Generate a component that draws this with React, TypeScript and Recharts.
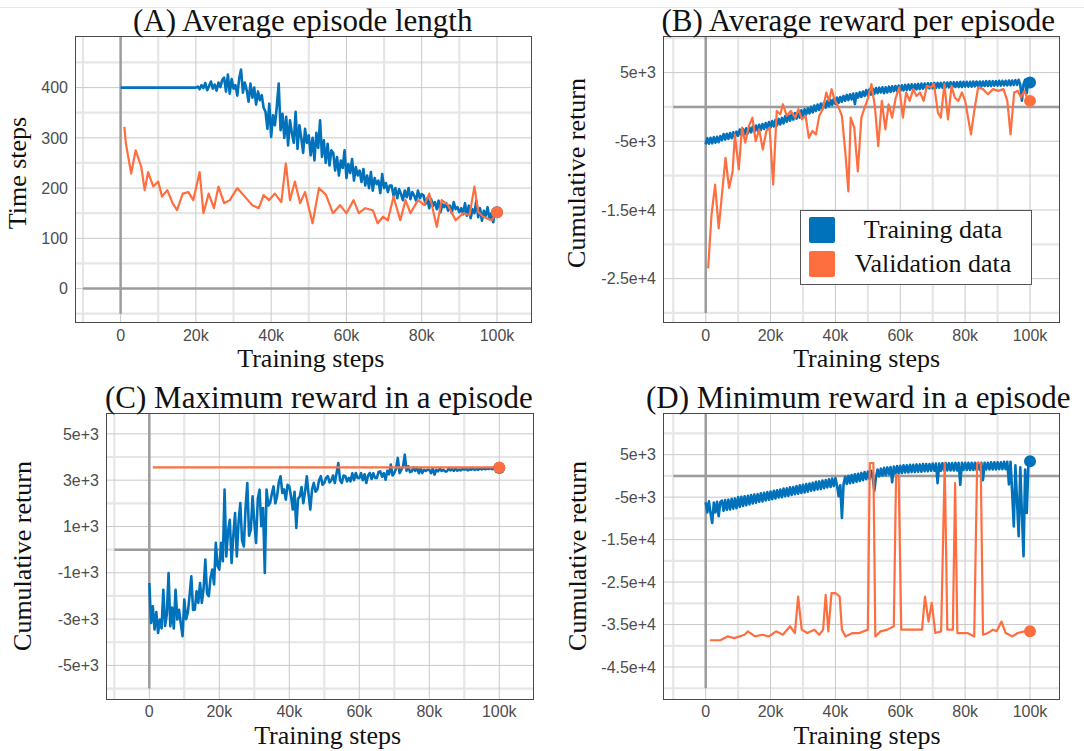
import React from "react";
import { LineChart, Line, XAxis, YAxis, CartesianGrid, ReferenceLine } from "recharts";

// training curves are logged every 500 steps, x is in thousands of steps
const TRAIN_STEP_K = 0.5;

const X_TICKS = [0, 20, 40, 60, 80, 100];
const X_MINOR = [-10, 10, 30, 50, 70, 90];

const BLUE = "#0071bb";
const ORANGE = "#ff6e3f";

// (A) average episode length
const TRAIN_A = [
  400, 400, 400, 400, 400, 400, 400, 400, 400, 400, 400, 400, 400, 400, 400, 400, 400, 400, 400, 400,
  400, 400, 400, 400, 400, 400, 400, 400, 400, 400, 400, 400, 400, 400, 400, 400, 400, 400, 400, 400, 400,
  402, 397, 405, 399, 409, 395, 403, 412, 398, 406, 394, 410, 401, 415,
  420, 392, 426, 388, 417, 398,
  405, 384, 418, 436, 390, 410,
  395, 372, 408, 380, 400, 366, 392, 375, 385, 360,
  352, 318, 368, 302, 345, 325, 362, 408, 315, 348,
  300, 342, 285, 335, 310, 290, 352, 278, 325, 300, 270, 318, 290, 305,
  265, 300, 255, 310, 280, 335, 262, 295, 250, 288, 245, 275,
  270, 235, 262, 225, 255, 240, 275, 220, 248, 230, 258, 215, 242, 225, 235, 212,
  238, 205, 225, 200, 232, 195, 220, 208, 215, 190, 228, 200, 210, 192, 205,
  205, 185, 200, 180, 198, 188, 176, 195, 182, 200, 178, 192, 185, 175, 195, 180, 188,
  185, 168, 180, 160, 178, 165, 172, 158, 175, 152, 168, 162, 170, 155, 165, 150, 172, 158, 162, 152,
  160, 148, 170, 145, 165, 140, 158, 150, 175, 142, 160, 135, 155, 145, 162, 138, 150, 132, 158, 152,
];
const VAL_A_X = [
  1, 1.4, 2.8, 4, 5.5, 6.4, 7.3, 8.7, 10, 11, 12.4, 13.8, 15, 16.5, 18, 19.3, 21, 22, 23.4, 24.8,
  26, 27.5, 29, 31, 33, 35, 36.7, 38, 39.4, 41, 42.7, 43.9, 45, 46.3, 47.7, 49, 51, 52.7, 54.6, 56.4,
  58.3, 60, 61.9, 63.3, 65, 67, 68.3, 69.7, 71, 72.5, 74.3, 75.7, 77, 79, 80.7, 82, 84, 85.3, 87, 89,
  91, 92.7, 94, 95, 96.3, 98.6, 100,
];
const VAL_A_Y = [
  322, 289, 229, 275, 242, 196, 232, 203, 213, 183, 196, 170, 156, 189, 192, 176, 232, 150, 189, 160,
  203, 170, 176, 200, 183, 166, 160, 186, 176, 189, 172, 249, 176, 213, 170, 192, 130, 200, 186, 150,
  166, 150, 176, 150, 160, 156, 130, 143, 136, 183, 136, 176, 150, 176, 166, 189, 123, 176, 166, 136,
  150, 146, 203, 153, 143, 136, 152,
];
const A_Y_TICKS = [0, 100, 200, 300, 400];
const A_Y_LABELS = ["0", "100", "200", "300", "400"];
const A_Y_MINOR = [-50, 50, 150, 250, 350, 450];

// (B) average reward per episode
const TRAIN_B = [
  -5450, -4550, -5350, -4500, -5300, -4400, -5200, -4350, -5150, -4250,
  -4850, -3950, -4750, -3900, -4650, -3800, -4550, -3700, -4450, -3600,
  -4200, -3300, -4100, -3200, -4000, -3100, -3850, -3000, -3700, -2850,
  -3600, -2700, -3450, -2600, -3350, -2500, -3200, -2350, -3100, -2200,
  -3000, -2050, -2850, -1900, -2700, -1750, -2550, -1600, -2400, -1350,
  -2150, -1200, -2000, -1050, -1850, -900, -1700, -750, -1550, -500,
  -1300, -350, -1100, -200, -950, 0, -800, 200, -600, 350,
  -450, 500, -250, 650, -100, 850, 100, 1000, 300, 1200,
  450, 1350, 600, 1450, 750, 1600, 900, 1750, 1000, 1850,
  1100, 1950, 400, 2000, 1350, 2150, 1450, 2250, 1600, 2450,
  1650, 2550, 1800, 2650, 1900, 2750, 2000, 2800, 2100, 2850,
  2000, 2850, 2100, 2950, 2200, 3000, 2300, 3050, 2300, 3100,
  2300, 3150, 2400, 3200, 2450, 3250, 2500, 3300, 2500, 3300,
  2550, 3350, 2600, 3400, 2650, 3400, 2700, 3450, 2700, 3450,
  2700, 3500, 2750, 3500, 2800, 3500, 2800, 3550, 2850, 3550,
  2850, 3600, 2850, 3600, 2900, 3600, 2900, 3650, 2900, 3650,
  2950, 3650, 2950, 3650, 2950, 3700, 3000, 3700, 3000, 3700,
  3000, 3700, 3050, 3750, 3050, 3750, 3050, 3750, 3100, 3750,
  3100, 3800, 3100, 3800, 3150, 3800, 3150, 3850, 3150, 3850,
  3200, 3900, 3200, 3950, 3250, 900, 3300, 3950, 2000, 3950, 3560,
];
const VAL_B_X = [
  0.75, 1.8, 2.9, 4, 5, 6.1, 7.2, 8.3, 9, 10.2, 11.2, 12.2, 13.3, 14.4, 15.4, 16.5, 17.6, 18.7, 19.7, 20.8,
  21.9, 23, 23.8, 25, 26.2, 27.6, 28.6, 29.7, 30.8, 31.8, 32.9, 34, 35, 36.1, 37.2, 38, 38.8, 39.9, 41, 42,
  43.1, 44, 44.7, 45.8, 46.9, 48, 49, 50.1, 51.1, 52.2, 53.2, 54.3, 55.4, 56.4, 57.5, 58.6, 59.7, 60.8, 61.8, 62.9,
  64, 65, 66.1, 67.2, 68.2, 69.4, 70.4, 71.6, 72.5, 73.6, 74.7, 75.8, 76.8, 77.9, 79, 80, 81.8, 82.8, 84, 85.5,
  87, 88.6, 90.2, 91.8, 93, 94, 95.1, 96.2, 97.2, 98.3, 99.5, 100,
];
const VAL_B_Y = [
  -23500, -15700, -11300, -17700, -12800, -7400, -11800, -9400, -4000, -9100,
  -3000, -5200, -2800, -1560, -5000, -3270, -6200, -3500, -3000, -11300,
  -590, -1070, 390, -1300, -590, -1560, -340, -1800, -1300, -4500,
  -3500, -4000, -1300, -340, 2100, 880, 2590, 880, -100, -1300,
  -6900, -12300, -1560, -3000, -9400, -1560, -100, 1370, 3320, -100,
  -5700, 880, -3270, 390, -1560, 1370, 2830, -1560, 2100, 880,
  2590, 1600, 2100, 880, 3070, 2830, 3320, -830, -1560, 3320,
  -1800, 3070, 1370, 880, 2100, 880, -4000, -590, 2830, 2590,
  1850, 2590, 2340, 2590, 880, -4000, 2100, 2340, 1370, 2340, 880, 880,
];
const B_Y_TICKS = [-25000, -15000, -5000, 5000];
const B_Y_LABELS = ["-2.5e+4", "-1.5e+4", "-5e+3", "5e+3"];
const B_Y_MINOR = [-30000, -20000, -10000, 0, 10000];

// (C) maximum reward in an episode
const TRAIN_C = [
  -1440, -3170, -2450, -3450, -2700, -3600, -3020, -3400, -1730, -3300,
  -2800, -1010, -3310, -2500, -3400, -1730, -3020, -2600, -3200, -3740,
  -2160, -3000, -2730, -2000, -1150, -2600, -2590, -1800, -2300, -1440,
  -2300, -1700, -430, -1900, -2010, -1200, -860, -1500, 290, -700,
  -860, 300, -500, 2590, -290, 800, 1290, -580, 600, 1580,
  -290, 1200, 2010, 400, 140, 1800, 2880, 600, 860, 2300,
  1200, 290, 2200, 2590, 1010, 1800, -1010, 2590, 1900, 2010,
  2400, 2730, 2000, 2300, 2900, 3170, 2450, 2600, 2160, 2800,
  2730, 2300, 1730, 2500, 940, 2200, 2300, 2700, 2010, 2500,
  3170, 2400, 1730, 2600, 2880, 2500, 2590, 3000, 3170, 2800,
  2880, 3100, 3170, 2900, 3000, 3200, 2880, 3300, 3740, 3000,
  2880, 3200, 3170, 2950, 3100, 2950, 3300, 3000, 3310, 3100,
  3090, 3300, 3000, 3250, 2880, 3200, 3310, 3050, 3300, 3100,
  3090, 3350, 3380, 3150, 3300, 3020, 3400, 3250, 3670, 3200,
  3310, 3500, 3960, 3300, 3450, 3600, 4100, 3400, 3600, 3350,
  3380, 3550, 3400, 3530, 3300, 3500, 3310, 3450, 3400, 3450,
  3450, 3300, 3500, 3240, 3450, 3380, 3500, 3400, 3450, 3380,
  3380, 3500, 3420, 3480, 3400, 3500, 3410, 3460, 3420, 3500,
  3450, 3500, 3420, 3480, 3450, 3500, 3440, 3480, 3450, 3510,
  3460, 3510, 3470, 3500, 3480, 3520, 3470, 3510, 3490, 3520, 3520,
];
const VAL_C_X = [1, 20, 40, 60, 80, 100];
const VAL_C_Y = [3550, 3550, 3550, 3550, 3550, 3550];
const C_Y_TICKS = [-5000, -3000, -1000, 1000, 3000, 5000];
const C_Y_LABELS = ["-5e+3", "-3e+3", "-1e+3", "1e+3", "3e+3", "5e+3"];
const C_Y_MINOR = [-6000, -4000, -2000, 0, 2000, 4000];

// (D) minimum reward in an episode
const TRAIN_D = [
  -6200, -8600, -6000, -8800, -11100, -6300, -8600, -6100, -9500, -6200,
  -5800, -8200, -5700, -8000, -5600, -7900, -5400, -7700, -5300, -7600,
  -5000, -7300, -4900, -7100, -4800, -6900, -4700, -6700, -4500, -6500,
  -4400, -6300, -4300, -6100, -4100, -6000, -4000, -5800, -3800, -5600,
  -3700, -5500, -3500, -5300, -3400, -5100, -3200, -5000, -3000, -4800,
  -2900, -4700, -2700, -4500, -2600, -4300, -2400, -4200, -2200, -4000,
  -2100, -3900, -1900, -3700, -1800, -3500, -1600, -3400, -1400, -3200,
  -1300, -3100, -1100, -2900, -1000, -2700, -800, -2600, -600, -2400,
  -500, -2300, -4800, -2200, -9900, -2000, -200, -1900, 0, -1700,
  200, -1600, 400, -1400, 500, -1200, 700, -1000, 900, -800,
  1000, -700, 1200, -500, -3500, -300, 1500, -100, 1700, 100,
  1900, 200, 2000, 400, 2100, -1500, 2200, 500, 2300, 600,
  2400, 700, 2500, 800, 2500, 800, 2600, 900, 2600, 900,
  2700, 1000, 2700, 1000, 2800, 1100, 2800, 1100, 2800, 1200,
  2900, 1200, 2900, -1700, 2900, 1200, 3000, 1300, 3000, 1300,
  3000, 1300, 3000, 1300, 3100, 1300, 3100, -2100, 3100, 1400,
  3100, 1400, 3100, 1400, 3100, 1400, 3100, 1400, 3100, 1400,
  3100, -1000, 3100, 1500, 3100, 1500, 3200, 1500, 3200, 1500,
  3200, 1600, 3200, 1600, 3300, 1600, 3300, -2000, 3300, -4000,
  -11900, 2500, -6000, -14200, 2000, -9000, -18900, 1500, -8700, 3000, 3430,
];
const VAL_D_X = [
  1.3, 4.5, 6.7, 8.8, 12, 13, 15.2, 17.4, 19.5, 21.7, 23.8, 26, 27.5, 28.5, 29.6, 31.3, 33.5, 35, 36.2, 37,
  37.8, 38.8, 40, 41.3, 42, 43.1, 45.3, 47.4, 50, 50.6, 51.7, 52.3, 53.9, 56, 58, 58.7, 59.5, 60.3, 63.5, 66.7,
  67.6, 68.7, 69.7, 70.8, 72.6, 73.7, 74.5, 76.2, 76.9, 77.6, 80.7, 82.8, 83.7, 84.8, 85.5, 87, 88.6, 89.7, 91.2, 92.5,
  94.6, 96.2, 98.3, 100,
];
const VAL_D_Y = [
  -38700, -38700, -37800, -38200, -37400, -36600, -37800, -37400, -37800, -36600,
  -37400, -35400, -37000, -28400, -36200, -37000, -36200, -37400, -36200, -28000,
  -36600, -27600, -27600, -28400, -36200, -37800, -37000, -37000, -36200, 3040,
  3040, -37800, -36600, -36200, -35400, 270, -100, -36200, -36200, -36200,
  -28400, -34300, -29900, -37000, -36600, 3040, -36200, -36200, -1670, -37000,
  -37000, -37800, 3040, 3040, -37400, -37000, -36200, -36600, -34300, -37000,
  -37800, -37000, -36600, -36600,
];
const D_Y_TICKS = [-45000, -35000, -25000, -15000, -5000, 5000];
const D_Y_LABELS = ["-4.5e+4", "-3.5e+4", "-2.5e+4", "-1.5e+4", "-5e+3", "5e+3"];
const D_Y_MINOR = [-50000, -40000, -30000, -20000, -10000, 0, 10000];

const SERIF = '"Liberation Serif", "Times New Roman", Times, serif';
const SANS = '"Liberation Sans", Arial, Helvetica, sans-serif';

const YW = 80;
const XH = 30;
const MT = 2;
const MR = 2;

type Pt = { x: number; y: number };

const fromSteps = (ys: number[]): Pt[] => ys.map((y, i) => ({ x: i * TRAIN_STEP_K, y }));
const zip = (xs: number[], ys: number[]): Pt[] => xs.map((x, i) => ({ x, y: ys[i] }));
const fmtK = (v: number) => (v === 0 ? "0" : `${v}k`);

interface PanelProps {
  plotLeft: number;
  plotTop: number;
  plotW: number;
  plotH: number;
  xDomain: [number, number];
  yDomain: [number, number];
  yTicks: number[];
  yLabels: string[];
  yMinor: number[];
  train: Pt[];
  val: Pt[];
}

function endDot(color: string, n: number) {
  // eslint-disable-next-line @typescript-eslint/no-explicit-any
  return (props: any) =>
    props.index === n - 1 ? (
      <circle key="end" cx={props.cx} cy={props.cy} r={6} fill={color} />
    ) : (
      <g key={`d${props.index}`} />
    );
}

function Panel(p: PanelProps) {
  const W = YW + p.plotW + MR;
  const H = MT + p.plotH + XH;
  const yStop = p.yMinor[0];
  return (
    <div style={{ position: "absolute", left: p.plotLeft - YW, top: p.plotTop - MT, width: W, height: H }}>
      <LineChart width={W} height={H} margin={{ top: MT, right: MR, bottom: 0, left: 0 }}>
        <CartesianGrid verticalValues={X_MINOR} horizontalValues={p.yMinor} stroke="#e6e6e6" strokeWidth={2.2} />
        <CartesianGrid verticalValues={X_TICKS} horizontalValues={p.yTicks} stroke="#c9c9c9" strokeWidth={1} />
        <XAxis
          type="number"
          dataKey="x"
          domain={p.xDomain}
          ticks={X_TICKS}
          interval={0}
          tickFormatter={fmtK}
          axisLine={false}
          tickLine={false}
          tickSize={0}
          tickMargin={7}
          height={XH}
          allowDataOverflow
          tick={{ fill: "#4d4d4d", fontSize: 16, fontFamily: SANS }}
        />
        <YAxis
          type="number"
          dataKey="y"
          domain={p.yDomain}
          ticks={p.yTicks}
          interval={0}
          tickFormatter={(v: number) => p.yLabels[p.yTicks.indexOf(v)] ?? String(v)}
          axisLine={false}
          tickLine={false}
          tickSize={0}
          tickMargin={8}
          width={YW}
          allowDataOverflow
          tick={{ fill: "#4d4d4d", fontSize: 16, fontFamily: SANS }}
        />
        <ReferenceLine
          segment={[{ x: 0, y: p.yDomain[1] }, { x: 0, y: yStop }]}
          stroke="#9c9c9c"
          strokeWidth={2.5}
        />
        <ReferenceLine
          segment={[{ x: -10, y: 0 }, { x: p.xDomain[1], y: 0 }]}
          stroke="#9c9c9c"
          strokeWidth={2.5}
        />
        <Line
          data={p.train}
          dataKey="y"
          type="linear"
          stroke={BLUE}
          strokeWidth={2.6}
          strokeLinejoin="round"
          dot={endDot(BLUE, p.train.length)}
          activeDot={false}
          isAnimationActive={false}
        />
        <Line
          data={p.val}
          dataKey="y"
          type="linear"
          stroke={ORANGE}
          strokeWidth={2.2}
          strokeLinejoin="round"
          dot={endDot(ORANGE, p.val.length)}
          activeDot={false}
          isAnimationActive={false}
        />
      </LineChart>
      <div
        style={{
          position: "absolute",
          left: YW - 0.75,
          top: MT - 0.75,
          width: p.plotW + 1.5,
          height: p.plotH + 1.5,
          border: "1.5px solid #4a4a4a",
          boxSizing: "border-box",
          pointerEvents: "none",
        }}
      />
    </div>
  );
}

const textBase: React.CSSProperties = { position: "absolute", fontFamily: SERIF, color: "#111", whiteSpace: "nowrap" };

function Title({ left, mid, text }: { left: number; mid: number; text: string }) {
  return <div style={{ ...textBase, left, top: mid - 15.5, fontSize: 31, lineHeight: "31px" }}>{text}</div>;
}

function XTitle({ cx, mid }: { cx: number; mid: number }) {
  return (
    <div style={{ ...textBase, left: cx - 150, width: 300, textAlign: "center", top: mid - 13, fontSize: 26, lineHeight: "26px" }}>
      Training steps
    </div>
  );
}

function YTitle({ cx, cy, text }: { cx: number; cy: number; text: string }) {
  return (
    <div
      style={{
        ...textBase,
        left: cx,
        top: cy,
        fontSize: 26,
        lineHeight: "26px",
        transform: "translate(-50%, -50%) rotate(-90deg)",
      }}
    >
      {text}
    </div>
  );
}

export default function App() {
  return (
    <div style={{ position: "absolute", left: 0, top: 0, width: 1084, height: 751, background: "#fff", overflow: "hidden" }}>
      <div style={{ position: "absolute", left: 0, top: 7, width: 1084, height: 1, background: "#e8e8e8" }} />

      <Panel
        plotLeft={75.7}
        plotTop={36.7}
        plotW={456}
        plotH={286}
        xDomain={[-11.85, 109.3]}
        yDomain={[-68.5, 500.7]}
        yTicks={A_Y_TICKS}
        yLabels={A_Y_LABELS}
        yMinor={A_Y_MINOR}
        train={fromSteps(TRAIN_A)}
        val={zip(VAL_A_X, VAL_A_Y)}
      />
      <Panel
        plotLeft={664}
        plotTop={36.7}
        plotW={395.3}
        plotH={286}
        xDomain={[-12.86, 109.03]}
        yDomain={[-31460, 10180]}
        yTicks={B_Y_TICKS}
        yLabels={B_Y_LABELS}
        yMinor={B_Y_MINOR}
        train={fromSteps(TRAIN_B)}
        val={zip(VAL_B_X, VAL_B_Y)}
      />
      <Panel
        plotLeft={106.7}
        plotTop={413.3}
        plotW={426.6}
        plotH={286}
        xDomain={[-12.09, 109.8]}
        yDomain={[-6450, 5900]}
        yTicks={C_Y_TICKS}
        yLabels={C_Y_LABELS}
        yMinor={C_Y_MINOR}
        train={fromSteps(TRAIN_C)}
        val={zip(VAL_C_X, VAL_C_Y)}
      />
      <Panel
        plotLeft={664}
        plotTop={413.3}
        plotW={395.3}
        plotH={286}
        xDomain={[-12.86, 109.03]}
        yDomain={[-52530, 14810]}
        yTicks={D_Y_TICKS}
        yLabels={D_Y_LABELS}
        yMinor={D_Y_MINOR}
        train={fromSteps(TRAIN_D)}
        val={zip(VAL_D_X, VAL_D_Y)}
      />

      <Title left={133} mid={20.5} text="(A) Average episode length" />
      <Title left={661.5} mid={20.5} text="(B) Average reward per episode" />
      <Title left={105} mid={397} text="(C) Maximum reward in a episode" />
      <Title left={646} mid={397} text="(D) Minimum reward in a episode" />

      <XTitle cx={310.8} mid={359.4} />
      <XTitle cx={866.7} mid={359.4} />
      <XTitle cx={327.7} mid={736.4} />
      <XTitle cx={867} mid={736.4} />

      <YTitle cx={18} cy={173.3} text="Time steps" />
      <YTitle cx={576.7} cy={173.3} text="Cumulative return" />
      <YTitle cx={23.2} cy={555.8} text="Cumulative return" />
      <YTitle cx={577.5} cy={555.8} text="Cumulative return" />

      <div
        style={{
          position: "absolute",
          left: 800.4,
          top: 210,
          width: 231.6,
          height: 75,
          border: "1px solid #555",
          background: "#fff",
          boxSizing: "border-box",
        }}
      >
        <div style={{ position: "absolute", left: 7.6, top: 6, width: 26, height: 26, borderRadius: 2, background: BLUE }} />
        <div style={{ position: "absolute", left: 7.6, top: 40, width: 26, height: 26, borderRadius: 2, background: ORANGE }} />
        <div style={{ ...textBase, left: 31.6, width: 200, textAlign: "center", top: 6, fontSize: 26, lineHeight: "26px" }}>
          Training data
        </div>
        <div style={{ ...textBase, left: 31.6, width: 200, textAlign: "center", top: 40, fontSize: 26, lineHeight: "26px" }}>
          Validation data
        </div>
      </div>
    </div>
  );
}
